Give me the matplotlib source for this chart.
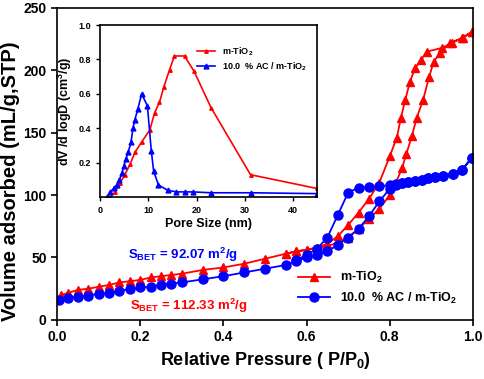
import matplotlib
matplotlib.use("Agg")
import matplotlib.pyplot as plt

plt.rcParams["font.family"] = ["Liberation Sans", "DejaVu Sans"]
plt.rcParams["mathtext.default"] = "regular"

# isotherm, m-TiO2 (adsorption then desorption)
tio2_ads_p = [0.01, 0.025, 0.05, 0.075, 0.1, 0.125, 0.15, 0.175, 0.2, 0.225, 0.25, 0.275, 0.3,
              0.35, 0.4, 0.45, 0.5, 0.55, 0.575, 0.6, 0.625, 0.65, 0.675, 0.7, 0.725, 0.75,
              0.775, 0.8, 0.815, 0.83, 0.84, 0.853, 0.865, 0.88, 0.895, 0.906, 0.921, 0.945,
              0.976, 0.998]
tio2_ads_v = [20, 21.5, 24, 25, 26.5, 28, 30, 31, 32, 34, 35, 36, 37,
              40, 42, 45, 49, 53, 55, 56, 58, 59, 62, 66, 73, 81,
              89, 100, 110, 122, 133, 147, 162, 176, 195, 207, 214, 222,
              226, 231]
tio2_des_p = [0.998, 0.974, 0.95, 0.926, 0.889, 0.875, 0.861, 0.849, 0.837, 0.827, 0.817,
              0.8, 0.775, 0.75, 0.725, 0.7, 0.675, 0.65, 0.625, 0.6, 0.575, 0.55]
tio2_des_v = [231, 226, 222, 218, 215, 208, 202, 191, 176, 162, 146,
              131, 110, 97, 86, 76, 67, 61, 58, 56, 55, 53]

# isotherm, 10.0 % AC / m-TiO2
ac_ads_p = [0.005, 0.026, 0.05, 0.075, 0.1, 0.125, 0.15, 0.175, 0.2, 0.225, 0.25, 0.275, 0.3,
            0.35, 0.4, 0.45, 0.5, 0.55, 0.575, 0.6, 0.625, 0.65, 0.675, 0.7, 0.725, 0.75,
            0.775, 0.8, 0.815, 0.83, 0.845, 0.86, 0.877, 0.892, 0.908, 0.928, 0.952, 0.973,
            0.998]
ac_ads_v = [16, 17.6, 18.7, 19.5, 21, 21.5, 23.5, 24.5, 26, 26.5, 28, 29, 30,
            32.5, 35, 38, 41, 44, 47, 50, 52, 55, 60, 66, 73, 83,
            95, 105, 108, 110, 110.5, 111, 112, 113.5, 114.5, 115.5, 117, 120,
            130]
ac_des_p = [0.998, 0.973, 0.952, 0.928, 0.908, 0.892, 0.877, 0.86, 0.845, 0.83, 0.815,
            0.8, 0.775, 0.75, 0.725, 0.7, 0.675, 0.65, 0.625, 0.6, 0.575]
ac_des_v = [130, 120, 117, 115.5, 114.5, 113.5, 112, 111, 110.5, 110, 109,
            108, 107, 106.5, 106, 102, 84, 66, 57, 52, 48]

# pore size distribution (inset)
psd_tio2_d = [2.1, 3.1, 4.1, 5.1, 6.2, 7.2, 8.6, 10.3, 11.3, 12.3, 13.2, 14.4, 15.4,
              17.5, 19.5, 23, 31.2, 45]
psd_tio2_v = [0.0, 0.03, 0.08, 0.13, 0.19, 0.26, 0.32, 0.39, 0.49, 0.55, 0.64, 0.74, 0.82,
              0.82, 0.73, 0.52, 0.13, 0.05]
psd_ac_d = [1.4, 2.1, 2.8, 3.4, 4.0, 4.5, 4.9, 5.3, 5.8, 6.4, 6.8, 7.2, 7.8, 8.6, 9.8,
            10.6, 11.1, 12.1, 14.0, 15.8, 17.5, 19.3, 23, 31.4, 45]
psd_ac_v = [0.0, 0.03, 0.05, 0.07, 0.10, 0.14, 0.18, 0.22, 0.26, 0.32, 0.40, 0.45, 0.51,
            0.60, 0.53, 0.27, 0.15, 0.07, 0.04, 0.03, 0.03, 0.03, 0.025, 0.025, 0.02]

RED = "#ff0000"
BLUE = "#0000ff"

fig = plt.figure(figsize=(4.84, 3.79), dpi=100)
ax = fig.add_axes([0.118, 0.156, 0.859, 0.823])

ax.plot(tio2_ads_p + tio2_des_p, tio2_ads_v + tio2_des_v, color=RED, marker="^",
        markersize=6, linewidth=1.3, label="m-TiO$_2$")
ax.plot(ac_ads_p + ac_des_p, ac_ads_v + ac_des_v, color=BLUE, marker="o",
        markersize=6.5, linewidth=1.3, label="10.0  % AC / m-TiO$_2$")

ax.set_xlim(0, 1.0)
ax.set_ylim(0, 250)
ax.set_xticks([0.0, 0.2, 0.4, 0.6, 0.8, 1.0])
ax.set_yticks([0, 50, 100, 150, 200, 250])
ax.tick_params(labelsize=10, width=1.2, length=4)
for lbl in ax.get_xticklabels() + ax.get_yticklabels():
    lbl.set_fontweight("bold")
for sp in ax.spines.values():
    sp.set_linewidth(1.2)

ax.set_xlabel("Relative Pressure ( P/P$_0$)", fontsize=13, fontweight="bold")
ax.set_ylabel("Volume adsorbed (mL/g,STP)", fontsize=14.5, fontweight="bold")
ax.yaxis.set_label_coords(-0.09, 0.445)

ax.text(0.17, 49, "S$_{BET}$ = 92.07 m$^2$/g", color=BLUE, fontsize=9.5,
        fontweight="bold")
ax.text(0.175, 8, "S$_{BET}$ = 112.33 m$^2$/g", color=RED, fontsize=9.5,
        fontweight="bold")

leg = ax.legend(loc="lower right", bbox_to_anchor=(0.99, 0.01), frameon=False,
                fontsize=9, handlelength=2.6, labelspacing=0.4)
for t in leg.get_texts():
    t.set_fontweight("bold")

# inset: pore size distribution
ins = fig.add_axes([0.207, 0.48, 0.448, 0.454])
ins.plot(psd_tio2_d, psd_tio2_v, color=RED, marker="^", markersize=2.5,
         linewidth=1.2, label="m-TiO$_2$")
ins.plot(psd_ac_d, psd_ac_v, color=BLUE, marker="^", markersize=3.5,
         linewidth=1.2, label="10.0  % AC / m-TiO$_2$")
ins.set_xlim(0, 45)
ins.set_ylim(0, 1.0)
ins.set_xticks([0, 10, 20, 30, 40])
ins.set_yticks([0.2, 0.4, 0.6, 0.8, 1.0])
ins.tick_params(labelsize=6.5, width=1, length=3)
for lbl in ins.get_xticklabels() + ins.get_yticklabels():
    lbl.set_fontweight("bold")
for sp in ins.spines.values():
    sp.set_linewidth(1.2)
ins.set_xlabel("Pore Size (nm)", fontsize=9, fontweight="bold", labelpad=2)
ins.set_ylabel("dV /d logD (cm$^3$/g)", fontsize=9, fontweight="bold", labelpad=3)
ileg = ins.legend(loc="upper right", bbox_to_anchor=(0.99, 0.93), frameon=False,
                  fontsize=6.5, handlelength=2.0, labelspacing=0.3)
for t in ileg.get_texts():
    t.set_fontweight("bold")

fig.savefig("out.png", dpi=100)
